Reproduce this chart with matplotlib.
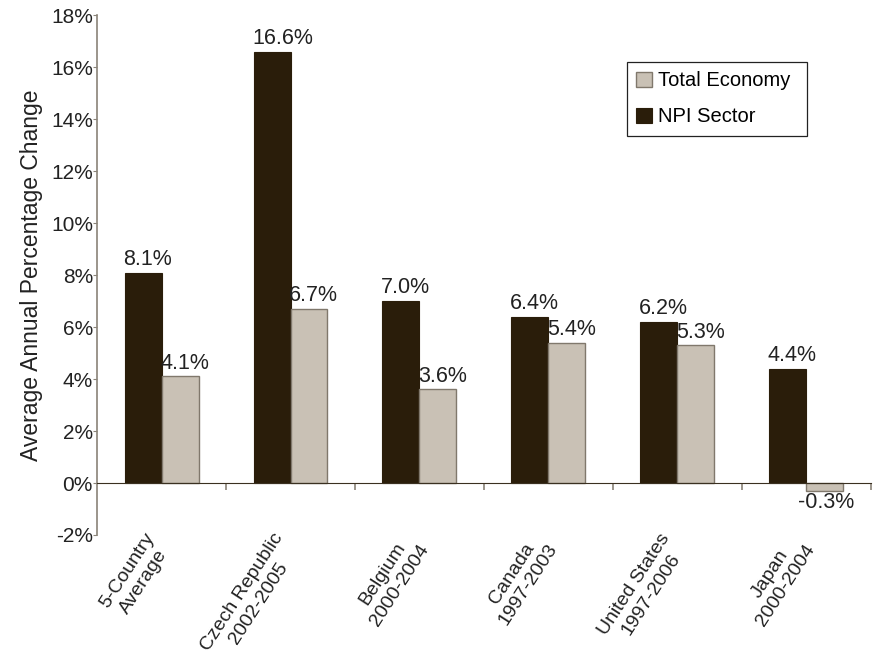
import numpy as np
import matplotlib.pyplot as plt
from matplotlib.transforms import ScaledTranslation

plt.rcParams['font.family'] = ['Liberation Sans', 'DejaVu Sans']

# data
categories = ['5-Country\nAverage', 'Czech Republic\n2002-2005', 'Belgium\n2000-2004',
              'Canada\n1997-2003', 'United States\n1997-2006', 'Japan\n2000-2004']
npi_sector = [8.1, 16.6, 7.0, 6.4, 6.2, 4.4]
total_economy = [4.1, 6.7, 3.6, 5.4, 5.3, -0.3]

dark = '#2a1d0a'
light = '#c9c1b5'
light_edge = '#80786c'
axis_col = '#8a8378'
txt = '#222222'

fig = plt.figure(figsize=(8.75, 6.65), dpi=100)
ax = fig.add_axes([0.111, 0.1955, 0.884, 0.7815])

x = np.arange(len(categories))
w = 0.287

b1 = ax.bar(x - w / 2, npi_sector, w, color=dark, edgecolor=dark, linewidth=0.8, label='NPI Sector')
b2 = ax.bar(x + w / 2, total_economy, w, color=light, edgecolor=light_edge, linewidth=1.0,
            label='Total Economy')

for rect, v in zip(list(b1) + list(b2), npi_sector + total_economy):
    lx = rect.get_x()
    if v >= 0:
        ax.annotate(f'{v:.1f}%', (lx, v), xytext=(-1, 2), textcoords='offset points',
                    ha='left', va='bottom', fontsize=15.5, color=txt)
    else:
        ax.annotate(f'{v:.1f}%', (lx, v), xytext=(-6, -1), textcoords='offset points',
                    ha='left', va='top', fontsize=15.5, color=txt)

ax.set_xlim(-0.5, len(categories) - 0.5)
ax.set_ylim(-2, 18)
ax.set_yticks(np.arange(-2, 19, 2))
ax.set_yticklabels([f'{t}%' for t in range(-2, 19, 2)], fontsize=15, color=txt)
ax.tick_params(axis='y', length=3, color=axis_col, pad=0)

# x axis line at zero with ticks between groups
ax.spines['top'].set_visible(False)
ax.spines['right'].set_visible(False)
ax.spines['bottom'].set_position(('data', 0))
ax.spines['bottom'].set_color('#3a3020')
ax.spines['left'].set_color(axis_col)
ax.spines['left'].set_linewidth(1.2)
ax.set_xticks(x + 0.5, minor=True)
ax.set_xticks(x)
ax.tick_params(axis='x', which='minor', length=5, color=axis_col, width=1.2)
ax.tick_params(axis='x', which='major', length=0, pad=34)
ax.set_xticklabels(categories, rotation=57, ha='right', va='top', rotation_mode='anchor',
                   multialignment='center', fontsize=14, color=txt)
shift = ScaledTranslation(-13 / 72, 0, fig.dpi_scale_trans)
for lbl in ax.get_xticklabels():
    lbl.set_transform(lbl.get_transform() + shift)

ax.set_ylabel('Average Annual Percentage Change', fontsize=16.5, color=txt, labelpad=6)

handles = [b2, b1]
leg = ax.legend(handles, ['Total Economy', 'NPI Sector'], loc='upper left',
                bbox_to_anchor=(0.685, 0.9096, 0.2326, 0), mode='expand', borderaxespad=0,
                fancybox=False, edgecolor=txt, fontsize=14.5, labelspacing=0.85,
                handlelength=0.8, handleheight=0.8, handletextpad=0.3, borderpad=0.45,
                framealpha=1)
leg.get_frame().set_linewidth(0.9)

fig.savefig('out.png', dpi=100)
